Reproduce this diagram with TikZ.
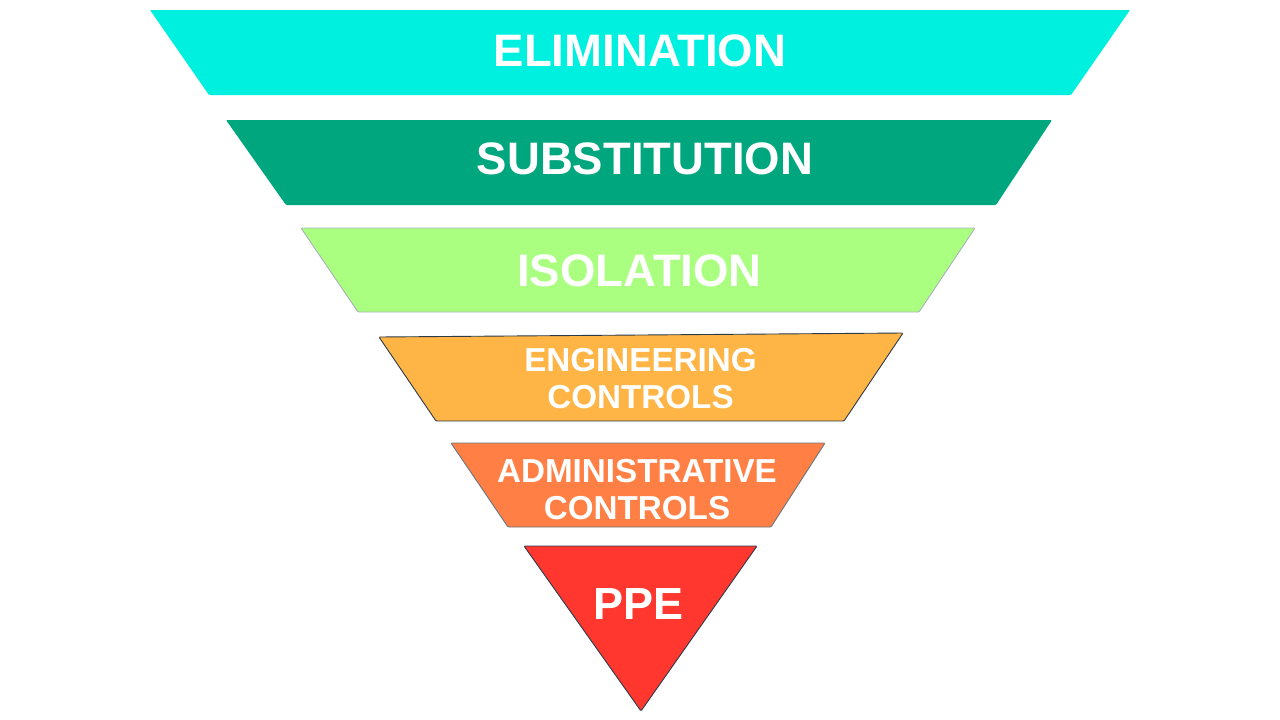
\documentclass[tikz,border=0pt]{standalone}
\usepackage{fontspec}
\setmainfont{Liberation Sans}
\definecolor{elim}{HTML}{00F0E0}
\definecolor{subst}{HTML}{00A67E}
\definecolor{isol}{HTML}{AAFF80}
\definecolor{engi}{HTML}{FFB545}
\definecolor{admi}{HTML}{FF7F45}
\definecolor{ppec}{HTML}{FF372E}
\definecolor{edge}{HTML}{2A3A4A}
\tikzset{
 band/.style={line width=0.9pt,line join=round,rounded corners=1pt},
 lbl/.style={text=white,font=\bfseries,align=center,inner sep=0pt},
 big/.style={lbl,font=\bfseries\fontsize{45.5}{46}\selectfont},
 small/.style={lbl,font=\bfseries\fontsize{33.2}{38}\selectfont},
}
\begin{document}
\begin{tikzpicture}[x=1pt,y=-1pt]
\useasboundingbox[fill=white] (0,0) rectangle (1280,720);
\fill[elim,band] (150,10) -- (1130,10) -- (1071,95) -- (209,95) -- cycle;
\fill[subst,band] (226,120) -- (1052,120) -- (996,205) -- (286,205) -- cycle;
\filldraw[fill=isol,draw=edge!40,band] (301,228) -- (975,228) -- (919,312) -- (358,312) -- cycle;
\filldraw[fill=engi,draw=edge,band] (379,337) -- (903,333) -- (844,421) -- (436,421) -- cycle;
\filldraw[fill=admi,draw=edge!70,band] (451,443) -- (825,443) -- (771,527) -- (508,527) -- cycle;
\filldraw[fill=ppec,draw=edge,band] (524,546) -- (757,546) -- (641,711) -- cycle;
\node[big] (n1) at (640,51) {ELIMINATION};
\node[big] (n2) at (645,159) {SUBSTITUTION};
\node[big] (n3) at (639.5,271) {ISOLATION};
\node[small] (n4a) at (640.5,360) {ENGINEERING};
\node[small] (n4b) at (640.5,397) {CONTROLS};
\node[small] (n5a) at (637,471) {ADMINISTRATIVE};
\node[small] (n5b) at (637,508) {CONTROLS};
\node[lbl,font=\bfseries\fontsize{45}{46}\selectfont] (n6) at (638.5,604) {PPE};
\end{tikzpicture}
\end{document}
